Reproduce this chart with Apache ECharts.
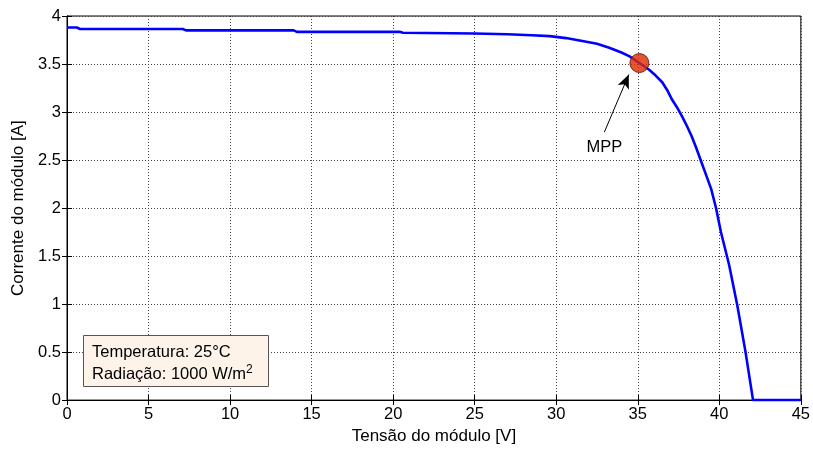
<!DOCTYPE html>
<html>
<head>
<meta charset="utf-8">
<script src="https://cdn.jsdelivr.net/npm/echarts@6/dist/echarts.min.js"></script>
<style>html,body{margin:0;padding:0;background:#fff}#c{width:813px;height:450px}</style>
</head>
<body>
<div id="c"></div>
<script>
// I-V curve data (Voltage [V], Current [A])
var voltage = [0, 0.6, 0.8, 7.1, 7.3, 13.9, 14.1, 20.4, 20.6, 25, 27, 28.5, 29.6, 30.6, 31.6, 32.5, 33.25, 34, 34.5, 35.1, 35.7, 36.1, 36.5, 36.8, 37.1, 37.4, 37.7, 38.0, 38.3, 38.6, 38.9, 39.2, 39.5, 39.8, 40.1, 40.6, 41.1, 41.6, 42.07, 45];
var current = [3.88, 3.88, 3.865, 3.865, 3.85, 3.85, 3.835, 3.835, 3.825, 3.818, 3.81, 3.80, 3.79, 3.77, 3.74, 3.71, 3.67, 3.62, 3.58, 3.51, 3.44, 3.38, 3.31, 3.23, 3.13, 3.05, 2.96, 2.86, 2.75, 2.62, 2.48, 2.34, 2.2, 2.0, 1.75, 1.41, 0.99, 0.51, 0, 0];
var mpp = [35.1, 3.51];
var arrowTail = [32.95, 2.79];
var arrowHead = [34.45, 3.39];
var mppLabelPos = [32.95, 2.63];
var xTicks = [0, 5, 10, 15, 20, 25, 30, 35, 40, 45];
var yTicks = [0, 0.5, 1, 1.5, 2, 2.5, 3, 3.5, 4];

var font = 'Liberation Sans, Arial, sans-serif';
var FS = 16.5;
var chart = echarts.init(document.getElementById('c'));
var curve = voltage.map(function (v, i) { return [v, current[i]]; });

var gridLine = { show: true, lineStyle: { color: '#444', type: [1, 2], width: 1 } };
chart.setOption({
  animation: false,
  backgroundColor: '#fff',
  grid: { left: 67, right: 11, top: 16, bottom: 43, show: true, borderColor: '#000', borderWidth: 1, containLabel: false },
  xAxis: [{
    type: 'value', min: 0, max: 45, interval: 5, position: 'bottom',
    axisLine: { show: true, onZero: false, lineStyle: { color: '#000', width: 1 } },
    axisTick: { show: true, inside: true, length: 5, lineStyle: { color: '#000' } },
    axisLabel: { color: '#000', fontFamily: font, fontSize: FS, margin: 6 },
    splitLine: gridLine,
    name: 'Tensão do módulo [V]', nameLocation: 'middle', nameGap: 26,
    nameTextStyle: { color: '#000', fontFamily: font, fontSize: 17 }
  }, {
    type: 'value', min: 0, max: 45, interval: 5, position: 'top',
    axisLine: { show: true, lineStyle: { color: '#000' } },
    axisTick: { show: true, inside: true, length: 5, lineStyle: { color: '#000' } },
    axisLabel: { show: false }, splitLine: { show: false }
  }],
  yAxis: [{
    type: 'value', min: 0, max: 4, interval: 0.5, position: 'left',
    axisLine: { show: true, onZero: false, lineStyle: { color: '#000' } },
    axisTick: { show: true, inside: true, length: 5, lineStyle: { color: '#000' } },
    axisLabel: { color: '#000', fontFamily: font, fontSize: FS, margin: 6,
      formatter: function (v) { return String(v); } },
    splitLine: gridLine,
    name: 'Corrente do módulo [A]', nameLocation: 'middle', nameGap: 32,
    nameTextStyle: { color: '#000', fontFamily: font, fontSize: 17 }
  }, {
    type: 'value', min: 0, max: 4, interval: 0.5, position: 'right',
    axisLine: { show: true, lineStyle: { color: '#000' } },
    axisTick: { show: true, inside: true, length: 5, lineStyle: { color: '#000' } },
    axisLabel: { show: false }, splitLine: { show: false }
  }],
  series: [{
    type: 'line', data: curve, showSymbol: false, symbol: 'none', z: 5,
    lineStyle: { color: '#0000ff', width: 2.6 },
    markLine: {
      silent: true, symbol: ['none', 'arrow'], symbolSize: [9, 14],
      lineStyle: { color: '#000', width: 1, type: 'solid' },
      label: { show: false },
      data: [[{ coord: arrowTail }, { coord: arrowHead }]]
    }
  }, {
    type: 'scatter', data: [mpp], symbol: 'circle', symbolSize: 19, z: 6,
    itemStyle: { color: '#dd2a00', borderColor: '#5a1000', borderWidth: 1 }
  }, {
    type: 'scatter', data: [mppLabelPos], symbolSize: 0, z: 6, silent: true,
    itemStyle: { color: '#000', opacity: 1 },
    label: { show: true, position: 'inside', formatter: 'MPP', color: '#000', fontFamily: font, fontSize: FS }
  }],
  graphic: [{
    type: 'rect', left: 83, top: 335, z: 10,
    shape: { width: 185, height: 51 },
    style: { fill: '#fdf3e8', stroke: '#555', lineWidth: 1 }
  }, {
    type: 'text', left: 92, top: 341, z: 11,
    style: {
      text: 'Temperatura: 25°C\nRadiação: 1000 W/m{s|2}',
      font: FS + 'px ' + font, fill: '#000', lineHeight: 22,
      rich: { s: { fontSize: 12, fontFamily: font, fill: '#000', padding: [0, 0, 9, 0] } }
    }
  }]
});
</script>
</body>
</html>
